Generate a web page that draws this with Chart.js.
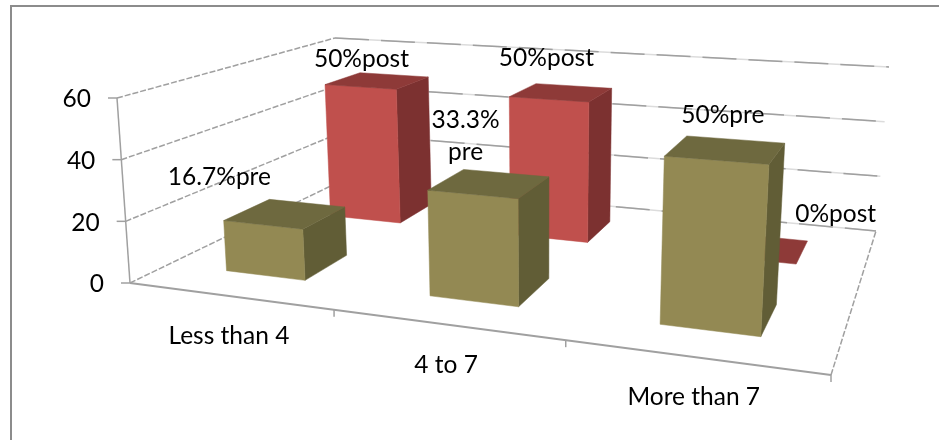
<!DOCTYPE html>
<html>
<head>
<meta charset="utf-8">
<title>Pre and post</title>
<script src="https://cdn.jsdelivr.net/npm/chart.js@4"></script>
<style>
    body { margin: 0; background: #fff; }
    canvas { display: block; }
</style>
</head>
<body>
<canvas id="chart" width="939" height="440"></canvas>
<script>
const categories = ['Less than 4', '4 to 7', 'More than 7'];
const preValues = [16.7, 33.3, 50];
const postValues = [50, 50, 0];
const preLabels = ['16.7%pre', ['33.3%', 'pre'], '50%pre'];
const postLabels = ['50%post', '50%post', '0%post'];

// data label offsets from the middle of each bar's top, in pixels
const preLabelOffsets = [[-66, -38], [-24, -49], [-3, -36]];
const postLabelOffsets = [[-16, -23], [-15, -36], [76, -35]];

const FONT = '24.5px Lato, Carlito, sans-serif';
const GRID = '#a0a0a0';

// corners of the plot box on screen: front-left, front-right, back-right, back-left
const floorQuad = [[130, 283], [831, 375], [876, 231], [341, 181]];
const ceilQuad = [[117, 98], [845, 153], [889, 67], [335, 38]];

// each series gets one depth slot, the bar takes 40% of it
const seriesDepth = [0.25, 0.75];
const barDepth = 0.2;

const colors = [
    { front: '#938953', top: '#6e693f', side: '#615d36' },
    { front: '#c0504d', top: '#8e3a38', side: '#7c3130' }
];

// unit square -> quad perspective mapping
function homography(q) {
    const [[x0, y0], [x1, y1], [x2, y2], [x3, y3]] = q;
    const dx1 = x1 - x2, dx2 = x3 - x2, sx = x0 - x1 + x2 - x3;
    const dy1 = y1 - y2, dy2 = y3 - y2, sy = y0 - y1 + y2 - y3;
    const det = dx1 * dy2 - dx2 * dy1;
    const g = (sx * dy2 - dx2 * sy) / det;
    const h = (dx1 * sy - sx * dy1) / det;
    return (u, v) => {
        const d = 1 + g * u + h * v;
        return [
            ((x1 - x0 + g * x1) * u + (x3 - x0 + h * x3) * v + x0) / d,
            ((y1 - y0 + g * y1) * u + (y3 - y0 + h * y3) * v + y0) / d
        ];
    };
}

const floorAt = homography(floorQuad);
const ceilAt = homography(ceilQuad);

// u along the categories, v into the depth, w up the value axis (all 0..1)
function project(u, v, w) {
    const a = floorAt(u, v), b = ceilAt(u, v);
    return [a[0] + (b[0] - a[0]) * w, a[1] + (b[1] - a[1]) * w];
}

function toU(chart, px) {
    const area = chart.chartArea;
    return (px - area.left) / area.width;
}

function toW(chart, py) {
    const area = chart.chartArea;
    return (area.bottom - py) / area.height;
}

function line(ctx, a, b, dash) {
    ctx.setLineDash(dash || []);
    ctx.beginPath();
    ctx.moveTo(a[0], a[1]);
    ctx.lineTo(b[0], b[1]);
    ctx.stroke();
}

function face(ctx, pts, color) {
    ctx.fillStyle = color;
    ctx.strokeStyle = color;
    ctx.lineWidth = 0.5;
    ctx.setLineDash([]);
    ctx.beginPath();
    pts.forEach((p, i) => i ? ctx.lineTo(p[0], p[1]) : ctx.moveTo(p[0], p[1]));
    ctx.closePath();
    ctx.fill();
    ctx.stroke();
}

function drawBox(chart, bar, slot) {
    const ctx = chart.ctx;
    const u0 = toU(chart, bar.x - bar.width / 2), u1 = toU(chart, bar.x + bar.width / 2);
    const v0 = seriesDepth[slot] - barDepth / 2, v1 = seriesDepth[slot] + barDepth / 2;
    const w0 = toW(chart, bar.base), w1 = toW(chart, bar.y);
    const c = colors[slot];
    if (w1 > w0) {
        face(ctx, [project(u1, v0, w0), project(u1, v1, w0), project(u1, v1, w1), project(u1, v0, w1)], c.side);
        face(ctx, [project(u0, v0, w0), project(u1, v0, w0), project(u1, v0, w1), project(u0, v0, w1)], c.front);
    }
    face(ctx, [project(u0, v0, w1), project(u1, v0, w1), project(u1, v1, w1), project(u0, v1, w1)], c.top);
}

function text(ctx, str, x, y) {
    const lines = Array.isArray(str) ? str : [str];
    lines.forEach((s, i) => ctx.fillText(s, x, y + 1.5 + (i - (lines.length - 1) / 2) * 32));
}

const box3d = {
    id: 'box3d',
    // page frame, walls and axes go under the bars
    beforeDatasetsDraw(chart) {
        const ctx = chart.ctx;
        const yScale = chart.scales.y;
        ctx.save();
        ctx.strokeStyle = '#8c8c8c';
        ctx.lineWidth = 2;
        ctx.strokeRect(11, 6, 960, 460);

        ctx.lineWidth = 1.5;
        yScale.ticks.forEach(t => {
            const w = toW(chart, yScale.getPixelForValue(t.value));
            ctx.strokeStyle = GRID;
            line(ctx, project(0, 0, w), project(0, 1, w), [6, 2]);
            const p = project(0, 0, w);
            line(ctx, [p[0] - 9, p[1]], p);
            // back wall: long dashes over a pale line
            ctx.strokeStyle = '#dcdcdc';
            line(ctx, project(0, 1, w), project(1, 1, w));
            ctx.strokeStyle = GRID;
            line(ctx, project(0, 1, w), project(1, 1, w), [34, 12]);
        });
        ctx.strokeStyle = GRID;
        line(ctx, project(0, 0, 0), project(0, 0, 1));
        line(ctx, project(1, 0, 0), project(1, 1, 0), [6, 2]);
        ctx.lineWidth = 1.8;
        line(ctx, project(0, 0, 0), project(1, 0, 0));
        ctx.lineWidth = 1.5;
        for (let i = 1; i <= categories.length; i++) {
            const p = project(i / categories.length, 0, 0);
            line(ctx, p, [p[0], p[1] + 7]);
        }
        ctx.restore();
    },
    // the boxes replace the flat bars; pre is drawn last so it sits in front
    beforeDatasetDraw(chart, args) {
        chart.ctx.save();
        args.meta.data.forEach(bar => drawBox(chart, bar, args.index));
        chart.ctx.restore();
        return false;
    },
    afterDatasetsDraw(chart) {
        const ctx = chart.ctx;
        const xScale = chart.scales.x, yScale = chart.scales.y;
        ctx.save();
        ctx.font = FONT;
        ctx.fillStyle = '#000';
        ctx.textBaseline = 'middle';

        ctx.textAlign = 'right';
        yScale.ticks.forEach(t => {
            const p = project(0, 0, toW(chart, yScale.getPixelForValue(t.value)));
            ctx.fillText(t.label, p[0] - 26, p[1] + 1.5);
        });

        ctx.textAlign = 'center';
        categories.forEach((name, i) => {
            const p = project(toU(chart, xScale.getPixelForValue(i)), 0, 0);
            ctx.fillText(name, p[0], p[1] + 40.5);
        });

        [preLabels, postLabels].forEach((labels, slot) => {
            const offsets = slot ? postLabelOffsets : preLabelOffsets;
            chart.getDatasetMeta(slot).data.forEach((bar, i) => {
                const p = project(toU(chart, bar.x), seriesDepth[slot], toW(chart, bar.y));
                text(ctx, labels[i], p[0] + offsets[i][0], p[1] + offsets[i][1]);
            });
        });
        ctx.restore();
    }
};

new Chart(document.getElementById('chart'), {
    type: 'bar',
    data: {
        labels: categories,
        datasets: [
            { label: 'pre', data: preValues, backgroundColor: colors[0].front },
            { label: 'post', data: postValues, backgroundColor: colors[1].front }
        ]
    },
    options: {
        responsive: false,
        animation: false,
        grouped: false,
        categoryPercentage: 1,
        barPercentage: 0.4,
        plugins: { legend: { display: false }, tooltip: { enabled: false } },
        scales: {
            x: { display: false },
            y: { display: false, min: 0, max: 60, ticks: { stepSize: 20 } }
        }
    },
    plugins: [box3d]
});
</script>
</body>
</html>
